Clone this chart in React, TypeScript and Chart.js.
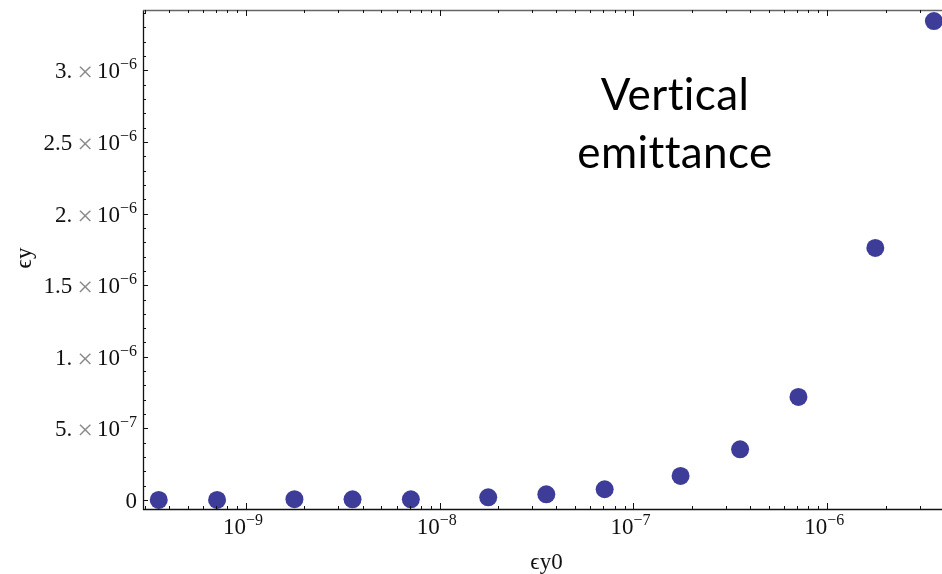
import React, { useEffect, useRef } from "react";
import { Chart, registerables } from "chart.js";

Chart.register(...registerables);

// ---- data ----
const eyInitial: number[] = [3.55e-10, 7.1e-10, 1.78e-9, 3.55e-9, 7.1e-9, 1.78e-8, 3.55e-8, 7.1e-8, 1.75e-7, 3.55e-7, 7.1e-7, 1.77e-6, 3.55e-6];
const eyFinal: number[] = [0.0004e-6, 0.0007e-6, 0.006e-6, 0.005e-6, 0.005e-6, 0.019e-6, 0.04e-6, 0.075e-6, 0.168e-6, 0.354e-6, 0.72e-6, 1.76e-6, 3.345e-6];

// ---- axes / ticks ----
const xMin = Math.pow(10, -9.531);
const xMax = Math.pow(10, -5.408);
const yMin = -0.0629e-6;
const yMax = 3.422e-6;
const xMajorTicks: number[] = [1e-9, 1e-8, 1e-7, 1e-6];
const xTickExponents: string[] = ["\u22129", "\u22128", "\u22127", "\u22126"];
const yMajorTicks: number[] = [0, 0.5e-6, 1e-6, 1.5e-6, 2e-6, 2.5e-6, 3e-6];
const yTickMantissas: string[] = ["0", "5.", "1.", "1.5", "2.", "2.5", "3."];
const yTickExponents: string[] = ["", "\u22127", "\u22126", "\u22126", "\u22126", "\u22126", "\u22126"];
const yMinorStep = 0.1e-6;
const xTitle = "\u03F5y0";
const yTitle = "\u03F5y";
const annotationLines: string[] = ["Vertical", "emittance"];

const POINT_COLOR = "rgb(61,61,153)";
const SERIF = "'Liberation Serif', 'Times New Roman', serif";
const MAIN = 23;
const SUP = 16;

const framePlugin = {
  id: "mmaFrame",
  afterDraw(chart: any) {
    const ctx: CanvasRenderingContext2D = chart.ctx;
    const xs = chart.scales.x;
    const ys = chart.scales.y;
    const { left, right, top, bottom } = chart.chartArea;
    ctx.save();
    // frame
    ctx.lineWidth = 1.3;
    ctx.strokeStyle = "#111";
    ctx.beginPath();
    ctx.moveTo(left + 0.5, top);
    ctx.lineTo(left + 0.5, bottom + 1);
    ctx.moveTo(left, bottom + 0.5);
    ctx.lineTo(right, bottom + 0.5);
    ctx.stroke();
    ctx.strokeStyle = "#666";
    ctx.beginPath();
    ctx.moveTo(left, top + 0.5);
    ctx.lineTo(right, top + 0.5);
    ctx.stroke();

    // y ticks (inward) minor + major
    ctx.strokeStyle = "#111";
    ctx.lineWidth = 1;
    ctx.beginPath();
    for (let k = 0; k * yMinorStep <= yMax; k++) {
      const v = k * yMinorStep;
      const py = Math.round(ys.getPixelForValue(v)) + 0.5;
      const len = k % 5 === 0 ? 5 : 3;
      ctx.moveTo(left, py);
      ctx.lineTo(left + len, py);
    }
    ctx.stroke();

    // x ticks bottom & top
    ctx.beginPath();
    for (let e = -10; e <= -5; e++) {
      for (let m = 1; m <= 9; m++) {
        const v = m * Math.pow(10, e);
        if (v < xMin || v > xMax) continue;
        const px = Math.round(xs.getPixelForValue(v)) + 0.5;
        const len = m === 1 ? 6 : 3;
        ctx.moveTo(px, bottom);
        ctx.lineTo(px, bottom - len);
        ctx.moveTo(px, top);
        ctx.lineTo(px, top + len);
      }
    }
    ctx.stroke();

    // y labels
    ctx.textBaseline = "alphabetic";
    ctx.fillStyle = "#111";
    yMajorTicks.forEach((v, i) => {
      const py = ys.getPixelForValue(v);
      const rightX = left - 6;
      const base = py + 8;
      if (!yTickExponents[i]) {
        ctx.font = `${MAIN}px ${SERIF}`;
        ctx.textAlign = "right";
        ctx.fillText(yTickMantissas[i], rightX, base);
        return;
      }
      ctx.font = `${SUP}px ${SERIF}`;
      const expW = ctx.measureText(yTickExponents[i]).width;
      ctx.font = `${MAIN}px ${SERIF}`;
      const tenW = ctx.measureText("10").width;
      ctx.textAlign = "left";
      const x = rightX - expW - tenW;
      ctx.fillText("10", x, base);
      ctx.font = `${SUP}px ${SERIF}`;
      ctx.fillText(yTickExponents[i], x + tenW, base - 9);
      // times sign
      ctx.font = `28px ${SERIF}`;
      const timesW = ctx.measureText("\u00D7").width;
      ctx.fillStyle = "#8a8a8a";
      const xw = x - 4 - timesW;
      ctx.fillText("\u00D7", xw, base + 3);
      ctx.fillStyle = "#111";
      ctx.font = `${MAIN}px ${SERIF}`;
      ctx.textAlign = "right";
      ctx.fillText(yTickMantissas[i], xw - 5, base);
    });

    // x labels
    xMajorTicks.forEach((v, i) => {
      const px = xs.getPixelForValue(v);
      ctx.font = `${MAIN}px ${SERIF}`;
      const tenW = ctx.measureText("10").width;
      ctx.textAlign = "left";
      const base = bottom + 25;
      const x0 = px - tenW;
      ctx.fillText("10", x0, base);
      ctx.font = `${SUP}px ${SERIF}`;
      ctx.fillText(xTickExponents[i], px, base - 9);
    });

    // axis titles
    ctx.font = `${MAIN}px ${SERIF}`;
    ctx.textAlign = "center";
    ctx.fillText(xTitle, (left + right) / 2 + 4, bottom + 60);
    ctx.save();
    ctx.translate(31, 258);
    ctx.rotate(-Math.PI / 2);
    ctx.fillText(yTitle, 0, 0);
    ctx.restore();

    // annotation
    ctx.font = `44px Lato, 'Open Sans', sans-serif`;
    (ctx as any).letterSpacing = "0.4px";
    ctx.fillStyle = "#000";
    ctx.textAlign = "center";
    ctx.fillText(annotationLines[0], 675, 110);
    ctx.fillText(annotationLines[1], 675, 168);
    ctx.restore();
  },
};

export default function App() {
  const ref = useRef<HTMLCanvasElement | null>(null);
  useEffect(() => {
    if (!ref.current) return;
    const chart = new Chart(ref.current, {
      type: "scatter",
      data: {
        datasets: [
          {
            label: "emittance",
            data: eyInitial.map((x, i) => ({ x, y: eyFinal[i] })),
            backgroundColor: POINT_COLOR,
            borderColor: POINT_COLOR,
            borderWidth: 0,
            pointRadius: 9,
          },
        ],
      },
      options: {
        animation: false,
        responsive: false,
        maintainAspectRatio: false,
        devicePixelRatio: 1,
        clip: false,
        layout: { autoPadding: false, padding: { left: 143, top: 10, right: 0, bottom: 65 } },
        plugins: { legend: { display: false }, tooltip: { enabled: false } },
        scales: {
          x: { type: "logarithmic", min: xMin, max: xMax, display: false },
          y: { type: "linear", min: yMin, max: yMax, display: false },
        },
      },
      plugins: [framePlugin],
    });
    return () => chart.destroy();
  }, []);
  return (
    <div style={{ position: "absolute", left: 0, top: 0, width: 942, height: 574, background: "#fff" }}>
      <canvas ref={ref} width={942} height={574} style={{ display: "block" }} />
    </div>
  );
}
